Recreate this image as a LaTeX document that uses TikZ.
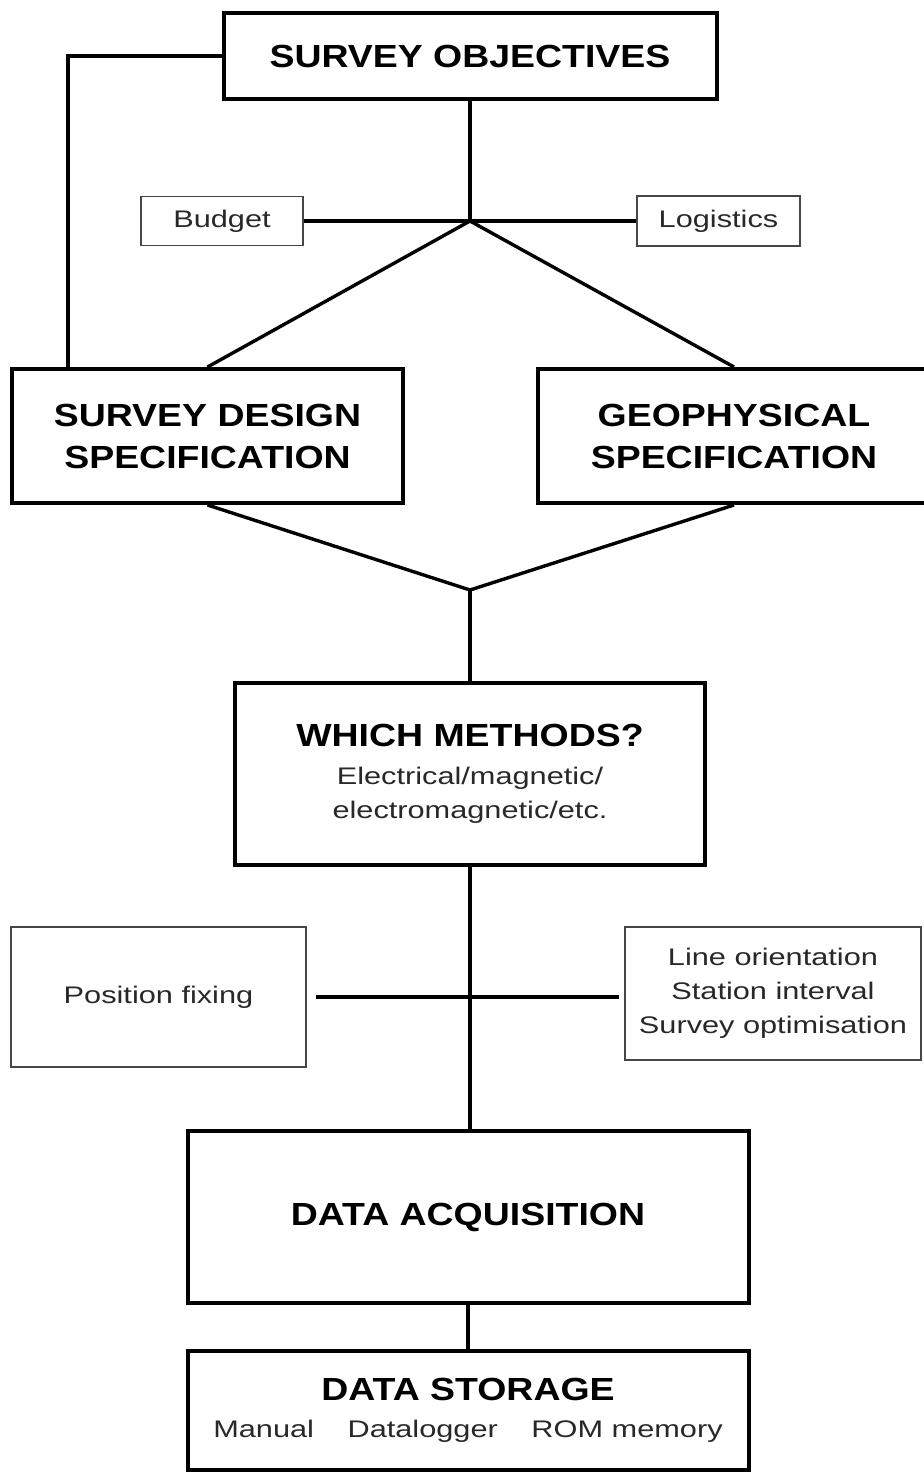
\documentclass[tikz,border=0pt]{standalone}
\usepackage{fontspec}
\usetikzlibrary{arrows}
\newfontfamily\titrefont{Liberation Sans}[FakeStretch=1.17]
\newfontfamily\textefont{Liberation Sans}[FakeStretch=1.28]
\newcommand\grostexte{\titrefont\bfseries\fontsize{16}{21}\selectfont}
\newcommand\petittexte{\textefont\fontsize{12}{17}\selectfont}
\definecolor{CadreGris}{RGB}{70, 70, 70}
\definecolor{TexteGris}{RGB}{40, 40, 40}

\tikzset{
	gros/.style={draw=black, line width=2pt, inner sep=0pt, align=center, font=\grostexte},
	petit/.style={draw=CadreGris, line width=0.8pt, inner sep=0pt, align=center, text=TexteGris, font=\petittexte},
	lien/.style={line width=1.7pt},
}

\begin{document}
\begin{tikzpicture}[x=0.5pt, y=-0.5pt]
			\useasboundingbox (0,0) rectangle (923,1474);
			\draw (470,56) node[gros, minimum width=246.5pt, minimum height=43pt] (objectifs) {SURVEY OBJECTIVES};
			\draw (222,221) node[petit, minimum width=81pt, minimum height=24.5pt] (budget) {Budget};
			\draw (718.5,221) node[petit, minimum width=81.5pt, minimum height=25pt] (logistique) {Logistics};
			\draw (207.5,436) node[gros, minimum width=195.5pt, minimum height=67pt] (conception) {SURVEY DESIGN\\SPECIFICATION};
			\draw (734,436) node[gros, minimum width=196pt, minimum height=67pt] (geophysique) {GEOPHYSICAL\\SPECIFICATION};
			\draw (470,774) node[gros, minimum width=235pt, minimum height=91pt, font=\petittexte] (methodes) {{\grostexte WHICH METHODS?}\\[2pt]{\color{TexteGris}Electrical/magnetic/}\\{\color{TexteGris}electromagnetic/etc.}};
			\draw (158.5,997) node[petit, minimum width=147.5pt, minimum height=70pt] (position) {Position fixing};
			\draw (773,993.5) node[petit, minimum width=148pt, minimum height=66.5pt] (profils) {Line orientation\\Station interval\\Survey optimisation};
			\draw (468,1217) node[gros, minimum width=280.5pt, minimum height=86pt] (acquisition) {DATA ACQUISITION};
			\draw (468,1410.5) node[gros, minimum width=280.5pt, minimum height=59.5pt, font=\petittexte] (stockage) {{\grostexte DATA STORAGE}\\[1.5pt]{\color{TexteGris}Manual\hspace{1.4em}Datalogger\hspace{1.4em}ROM memory}};
			\coordinate (haut) at (470,221);
			\coordinate (bas) at (470,590);
			\draw[lien] (objectifs.west) -| ([xshift=29pt]conception.north west);
			\draw[lien] (objectifs.south) -- (haut);
			\draw[lien] (budget.east) -- (logistique.west);
			\draw[lien] (conception.north) -- (haut) -- (geophysique.north);
			\draw[lien] (conception.south) -- (bas) -- (geophysique.south);
			\draw[lien] (bas) -- (methodes.north);
			\draw[lien] (methodes.south) -- (acquisition.north -| methodes.south);
			\draw[lien, shorten <=4.5pt, shorten >=2.5pt] (position.east) -- (position.east -| profils.west);
			\draw[lien] (acquisition.south) -- (stockage.north);
		\end{tikzpicture}
\end{document}
